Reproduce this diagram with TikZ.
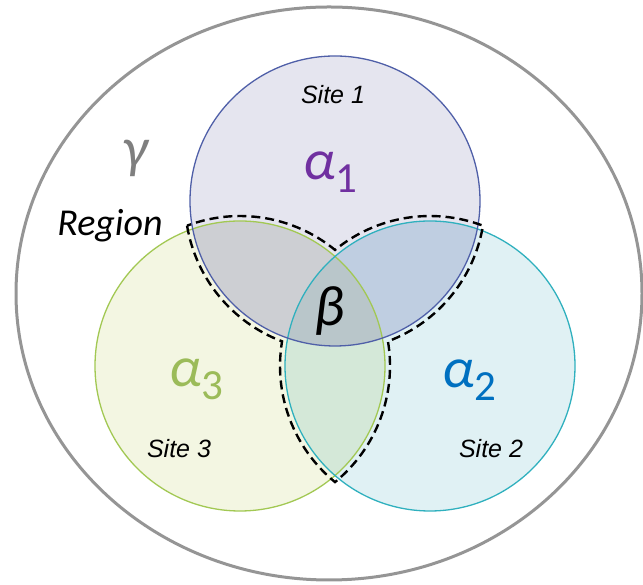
\documentclass[tikz,border=0pt]{standalone}
\usepackage{fontspec}
\newfontfamily\carl{Carlito}
\newfontfamily\lsans{Liberation Sans}
\usetikzlibrary{calc}
\definecolor{outergray}{HTML}{959595}
\definecolor{oneline}{HTML}{4F5FA8}
\definecolor{twoline}{HTML}{2FB0BE}
\definecolor{threeline}{HTML}{A2C853}
\definecolor{onefill}{HTML}{E5E5EF}
\definecolor{twofill}{HTML}{E0F1F4}
\definecolor{threefill}{HTML}{F3F6E2}
\definecolor{ot}{HTML}{CDCFD3}
\definecolor{otw}{HTML}{BFCEE1}
\definecolor{tt}{HTML}{D4E8D8}
\definecolor{all}{HTML}{B9C6CA}
\definecolor{apurple}{HTML}{7030A0}
\definecolor{ablue}{HTML}{0070C0}
\definecolor{agreen}{HTML}{9BBB59}
\definecolor{ggray}{HTML}{7F7F7F}
\tikzset{
  sitelabel/.style={inner sep=0pt, font=\lsans\itshape\fontsize{25}{25}\selectfont},
  greek/.style={inner sep=0pt, anchor=base west, font=\carl\fontsize{57}{60}\selectfont},
  siteline/.style={line width=1.3pt},
  lensline/.style={line width=2.4pt, dash pattern=on 9pt off 5pt, black}
}
\newcommand{\subnum}[1]{\raisebox{-13pt}{\upshape\fontsize{43}{43}\selectfont #1}}
\begin{document}
\begin{tikzpicture}[x=1pt,y=1pt]
\useasboundingbox (0,0) rectangle (643,585);
\coordinate (c1) at (335,384);
\coordinate (c2) at (430,219);
\coordinate (c3) at (240,219);
\coordinate (ctr) at (329,291.5);
% fills
\fill[onefill] (c1) circle (145);
\fill[twofill] (c2) circle (145);
\fill[threefill] (c3) circle (145);
\begin{scope}
  \clip (c1) circle (145);
  \fill[ot] (c3) circle (145);
  \fill[otw] (c2) circle (145);
\end{scope}
\begin{scope}
  \clip (c2) circle (145);
  \fill[tt] (c3) circle (145);
\end{scope}
\begin{scope}
  \clip (c1) circle (145);
  \clip (c2) circle (145);
  \fill[all] (c3) circle (145);
\end{scope}
% outlines
\draw[outergray, line width=3pt] (ctr) ellipse [x radius=313, y radius=286.5];
\draw[siteline, threeline] (c3) circle (145);
\draw[siteline, twoline] (c2) circle (145);
\draw[siteline, oneline] (c1) circle (145);
% dashed outline of pairwise overlaps
\draw[lensline] ($(c1)+(189.47:150)$)
  arc[start angle=189.47, end angle=249.33, radius=150]
  arc[start angle=170.53, end angle=230.70, radius=150]
  arc[start angle=-50.70, end angle=9.47, radius=150]
  arc[start angle=290.67, end angle=350.53, radius=150]
  arc[start angle=69.33, end angle=129.30, radius=150]
  arc[start angle=50.70, end angle=110.67, radius=150] -- cycle;
% labels
\node[sitelabel] (s1) at (333,490) {Site 1};
\node[sitelabel] (s3) at (179,136) {Site 3};
\node[sitelabel] (s2) at (491,136) {Site 2};
\node[greek, text=apurple] (a1) at (303,405) {\itshape α\subnum{1}};
\node[greek, text=ablue] (a2) at (442,197) {\itshape α\subnum{2}};
\node[greek, text=agreen] (a3) at (169,198) {\itshape α\subnum{3}};
\node[greek, text=black, anchor=center] (b) at (330,274) {\itshape β};
\node[greek, text=ggray, anchor=center] (g) at (135,427) {\itshape γ};
\node[inner sep=0pt, font=\carl\itshape\fontsize{38}{38}\selectfont] (r) at (110,359) {Region};
\end{tikzpicture}
\end{document}
